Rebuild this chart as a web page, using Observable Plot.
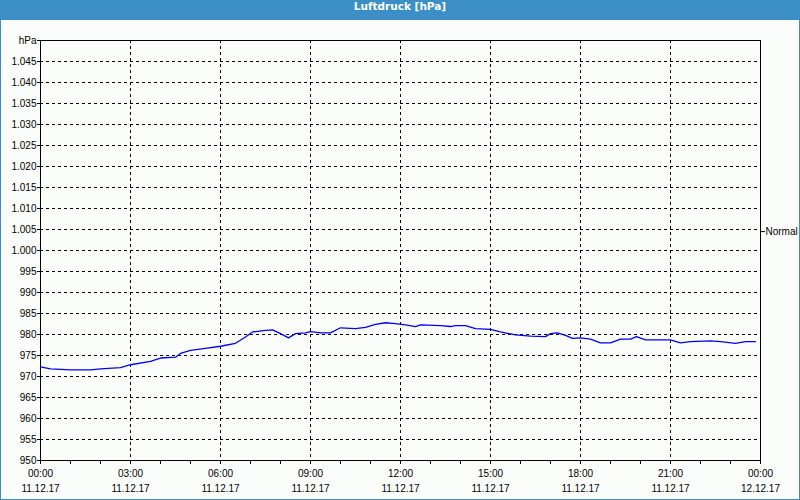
<!DOCTYPE html>
<html>
<head>
<meta charset="utf-8">
<script src="https://cdn.jsdelivr.net/npm/d3@7"></script>
<script src="https://cdn.jsdelivr.net/npm/@observablehq/plot@0.6"></script>
<style>
  html, body { margin: 0; padding: 0; background: #fbfdfb; }
  #wrap { position: relative; width: 800px; height: 500px; background: #fbfdfb; overflow: hidden; }
  #title { height: 20px; line-height: 20px; background: #3c8fc6; color: #fff; text-align: center;
           font: bold 10.5px "DejaVu Sans", sans-serif; }
  #border { position: absolute; left: 0; top: 0; width: 800px; height: 500px; box-sizing: border-box;
            border: 1px solid #3c8fc6; border-top: none; pointer-events: none; }
  svg { display: block; }
</style>
</head>
<body>
<div id="wrap">
  <div id="title">Luftdruck [hPa]</div>
  <div id="chart"></div>
  <div id="border"></div>
</div>
<script>
// Time of day (11.12.17) and air pressure readings in hPa
const times = ["00:00","00:20","01:00","01:40","02:00","02:40","03:00","03:40","04:00","04:30",
  "04:40","05:00","05:30","06:00","06:30","06:50","07:04","07:30","07:44","08:00",
  "08:16","08:30","08:50","09:00","09:20","09:40","10:00","10:30","10:50","11:10",
  "11:30","11:50","12:10","12:30","12:40","13:20","13:40","13:50","14:10","14:30",
  "15:00","15:20","15:50","16:20","16:50","17:00","17:14","17:30","17:44","18:00",
  "18:20","18:40","19:00","19:20","19:40","19:52","20:10","21:00","21:20","21:40",
  "22:20","22:40","23:10","23:30","23:50"];
const pressure = [972.3,971.8,971.6,971.6,971.8,972.1,972.8,973.6,974.4,974.6,
  975.5,976.2,976.7,977.2,977.9,979.4,980.6,981.0,981.1,980.2,
  979.2,980.2,980.4,980.7,980.4,980.4,981.6,981.4,981.7,982.4,
  982.8,982.6,982.3,981.9,982.3,982.1,981.9,982.1,982.1,981.4,
  981.2,980.6,979.9,979.6,979.5,980.2,980.4,979.8,979.1,979.2,
  978.9,978.0,978.0,978.9,978.9,979.5,978.7,978.7,978.0,978.3,
  978.5,978.3,977.9,978.3,978.3];
const yTicks = d3.range(950, 1051, 5);
const xMajor = d3.range(0, 25, 3);
const xMinor = d3.range(0, 25, 1);
const normalValue = [1004.5];
const normalLabel = "Normal";

const data = times.map((t, i) => {
  const [h, m] = t.split(":").map(Number);
  return {hour: h + m / 60, value: pressure[i]};
});

const fmtNum = v => v === 1050 ? "hPa" : (v >= 1000 ? "1." + String(v - 1000).padStart(3, "0") : String(v));
const fmtTime = h => String(h % 24).padStart(2, "0") + ":00";
const fmtDate = h => h < 24 ? "11.12.17" : "12.12.17";

const font = "Liberation Sans, sans-serif";

const chart = Plot.plot({
  width: 800,
  height: 480,
  marginTop: 20,
  marginBottom: 40,
  marginLeft: 40,
  marginRight: 40,
  style: {background: "transparent", fontFamily: font, fontSize: "10px", color: "#000"},
  x: {domain: [0, 24]},
  y: {domain: [950, 1050]},
  marks: [
    Plot.gridY(yTicks.filter(v => v > 950 && v < 1050), {stroke: "#000", strokeOpacity: 1, strokeDasharray: "3,3"}),
    Plot.gridX(xMajor.filter(v => v > 0 && v < 24), {stroke: "#000", strokeOpacity: 1, strokeDasharray: "3,3"}),
    Plot.frame({stroke: "#000", strokeWidth: 1}),
    Plot.line(data, {x: "hour", y: "value", stroke: "#0000ff", strokeWidth: 1.3}),
    Plot.axisY({ticks: yTicks, tickFormat: fmtNum, tickSize: 3, tickPadding: 1, label: null, fill: "#000", stroke: "#000"}),
    Plot.axisY({anchor: "right", ticks: normalValue, tickFormat: () => normalLabel, tickSize: 4, tickPadding: 1, label: null, fill: "#000", stroke: "#000"}),
    Plot.axisX({ticks: xMinor, tickFormat: () => "", tickSize: 4, label: null, stroke: "#000"}),
    Plot.axisX({ticks: xMajor, tickFormat: fmtTime, tickSize: 0, tickPadding: 9, label: null, fill: "#000"}),
    Plot.axisX({ticks: xMajor, tickFormat: fmtDate, tickSize: 0, tickPadding: 24, label: null, fill: "#000"})
  ]
});
document.getElementById("chart").appendChild(chart);
</script>
</body>
</html>
